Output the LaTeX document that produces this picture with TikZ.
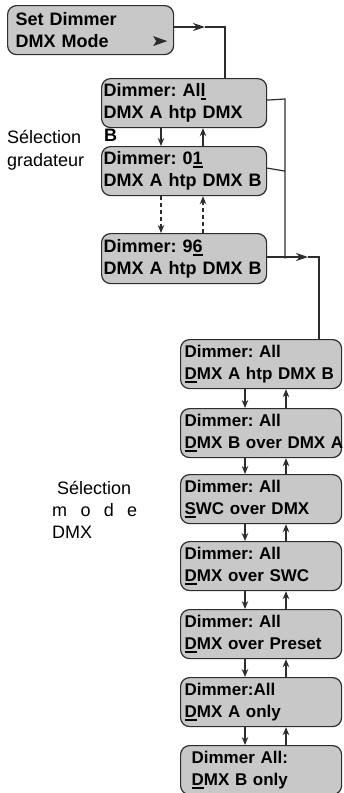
\documentclass[tikz,border=0pt]{standalone}
\usepackage{fontspec}
\setmainfont{Liberation Sans}
\usetikzlibrary{arrows.meta,positioning}
\definecolor{boxgray}{RGB}{200,200,200}
\definecolor{boxline}{RGB}{45,45,45}
\newcommand{\cursor}[1]{\setbox0=\hbox{#1}\leavevmode\rlap{\rule[-3.5pt]{\wd0}{1.8pt}}\box0}
\frenchspacing
\begin{document}
\begin{tikzpicture}[x=1pt,y=-1pt,
  menu/.style={draw=boxline, fill=boxgray, rounded corners=9pt, line width=1.2pt, anchor=north west, inner ysep=0pt, minimum height=49pt, text=black},
  upper/.style={menu, inner xsep=2pt, text width=161pt, font=\fontsize{18}{22}\selectfont\bfseries},
  lower/.style={menu, inner xsep=4pt, text width=153pt, font=\fontsize{17}{22}\selectfont\bfseries},
  sidetext/.style={anchor=base west, inner sep=0pt, font=\fontsize{18}{22}\selectfont},
  flow/.style={draw=boxline, line width=1.2pt},
  down/.style={flow, -{Stealth[length=8pt,width=6.5pt]}},
  side/.style={flow, -{Stealth[length=12pt,width=8pt]}}]
\useasboundingbox (0,0) rectangle (343,793);

\node[upper, inner xsep=8pt, text width=150pt] (setmode) at (7,5) {Set Dimmer\\DMX Mode};
\fill[boxline] ([xshift=-21pt,yshift=-6pt]setmode.east) -- ++(14,5) -- ++(-14,5) -- ++(3,-5) -- cycle;

\node[upper] (dimall) at (101,78) {Dimmer: Al\cursor{l}\\DMX A htp DMX};
\node[sidetext, font=\fontsize{18}{22}\selectfont\bfseries] (wrapb) at ([xshift=3pt,yshift=-13pt]dimall.south west) {B};
\node[upper] (dimone) at (101,146) {Dimmer: 0\cursor{1}\\DMX A htp DMX B};
\node[upper, minimum height=50pt] (dimlast) at (101,233) {Dimmer: 9\cursor{6}\\DMX A htp DMX B};

\node[sidetext] (selgrad) at (7,143) {Sélection};
\node[sidetext] (grad) at (7,166) {gradateur};

\node[lower] (htp) at (180,339) {Dimmer: All\\\cursor{D}MX A htp DMX B};
\node[lower] (bovera) at (180,408) {Dimmer: All\\\cursor{D}\mbox{MX B over DMX A}};
\node[lower] (swc) at (180,474) {Dimmer: All\\\cursor{S}WC over DMX};
\node[lower] (oversw) at (180,541) {Dimmer: All\\\cursor{D}MX over SWC};
\node[lower] (preset) at (180,609) {Dimmer: All\\\cursor{D}MX over Preset};
\node[lower] (aonly) at (180,677) {Dimmer:All\\\cursor{D}MX A only};
\node[lower, inner xsep=11pt, text width=139pt] (bonly) at (180,745) {Dimmer All:\\\cursor{D}MX B only};

\node[sidetext] (selmode) at (57,494) {Sélection};
\node[sidetext] (mode) at (52,516) {\makebox[85pt][s]{m\hfil o\hfil d\hfil e}};
\node[sidetext] (dmx) at (52,538) {DMX};

\coordinate (tipa) at (205,27);
\coordinate (corna) at (225,27);
\draw[side] (setmode.east |- tipa) -- (tipa);
\draw[flow] (tipa) -- (corna) -- (corna |- dimall.north);

\coordinate (bus) at (285,99);
\draw[flow] ([yshift=3pt]dimall.east) -- (bus) -- (bus |- dimlast.east);
\draw[flow] ([yshift=3pt]dimone.east) -- (dimone.east -| bus);
\coordinate (tipb) at (308,257);
\coordinate (cornb) at (319,257);
\draw[side] (dimlast.east |- tipb) -- (tipb);
\draw[flow] (tipb) -- (cornb) -- (cornb |- htp.north);

\draw[down] ([xshift=60pt]dimall.south west) -- ([xshift=60pt]dimone.north west);
\draw[down] ([xshift=102pt]dimone.north west) -- ([xshift=102pt]dimall.south west);
\draw[down, dash pattern=on 4pt off 3pt] ([xshift=60pt]dimone.south west) -- ([xshift=60pt]dimlast.north west);
\draw[down, dash pattern=on 4pt off 3pt] ([xshift=102pt]dimlast.north west) -- ([xshift=102pt]dimone.south west);

\foreach \a/\b in {htp/bovera, bovera/swc, swc/oversw, oversw/preset, preset/aonly, aonly/bonly} {
  \draw[down] ([xshift=65pt]\a.south west) -- ([xshift=65pt]\b.north west);
  \draw[down] ([xshift=106pt]\b.north west) -- ([xshift=106pt]\a.south west);
}
\end{tikzpicture}
\end{document}
